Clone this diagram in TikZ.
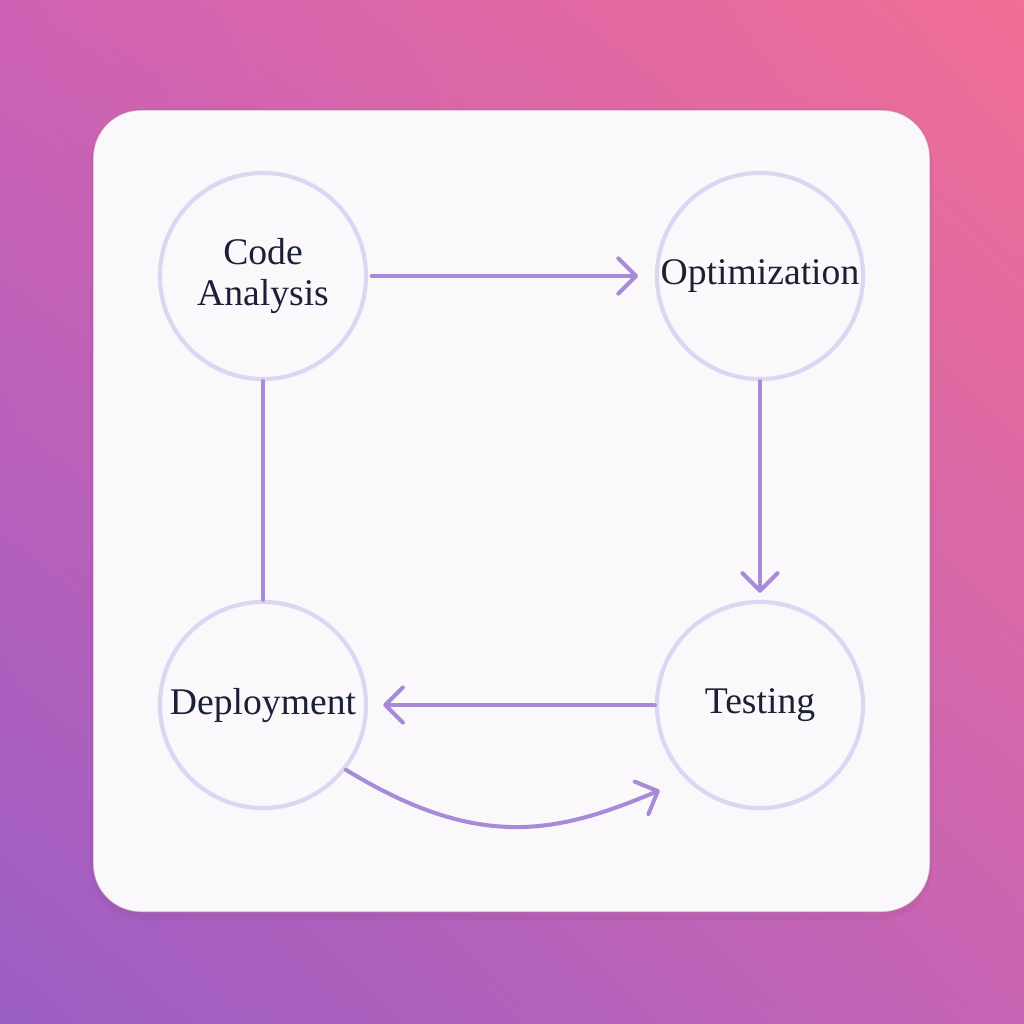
\documentclass[tikz,border=0pt]{standalone}
\usepackage{fontspec}
\setmainfont{Liberation Serif}
\usepackage{xcolor}
\usetikzlibrary{arrows.meta,shadings}

\definecolor{bgTL}{HTML}{CF62B4}
\definecolor{bgTR}{HTML}{F16E95}
\definecolor{bgBL}{HTML}{9A5EC4}
\definecolor{bgBR}{HTML}{C864B4}
\definecolor{cardfill}{HTML}{FBF8FC}
\definecolor{ringcol}{HTML}{DDD6F0}
\definecolor{linkcol}{HTML}{A88AD8}
\definecolor{inkcol}{HTML}{1A2035}

\begin{document}
\begin{tikzpicture}[x=0.01cm,y=-0.01cm,
    stage/.style={circle,draw=ringcol,line width=1.2pt,fill=cardfill,
      minimum size=2.06cm,inner sep=0pt,align=center,text=inkcol,
      font=\fontsize{10.7}{11.8}\selectfont},
    link/.style={draw=linkcol,line width=1.15pt,line cap=round},
    flow/.style={link,-{Straight Barb[length=5pt,width=10pt,round]}}]
  \useasboundingbox (0,0) rectangle (1024,1024);
  % background and card
  \shade[upper left=bgTL,upper right=bgTR,lower left=bgBL,lower right=bgBR]
    (0,0) rectangle (1024,1024);
  \fill[black,opacity=0.03,rounded corners=15pt] (90,114) rectangle (933,920);
  \filldraw[fill=cardfill,draw=bgTL!80!black,draw opacity=0.4,line width=0.4pt,
    rounded corners=13.6pt] (93,110) rectangle (930,912);
  % stages
  \node[stage] (code) at (263,276) {Code\\Analysis};
  \node[stage] (optim) at (760,276) {Optimization};
  \node[stage] (test) at (760,705) {Testing};
  \node[stage] (deploy) at (263,705) {Deployment};
  % links
  \draw[flow,shorten <=1pt,shorten >=4.8pt] (code) -- (optim);
  \draw[flow,shorten >=2pt] (optim) -- (test);
  \draw[flow,shorten >=4.3pt] (test) -- (deploy);
  \draw[link] (deploy) -- (code);
  \draw[flow,shorten >=8pt] (deploy.-38) .. controls (480,852) and (558,833) .. (test.225);
\end{tikzpicture}
\end{document}
